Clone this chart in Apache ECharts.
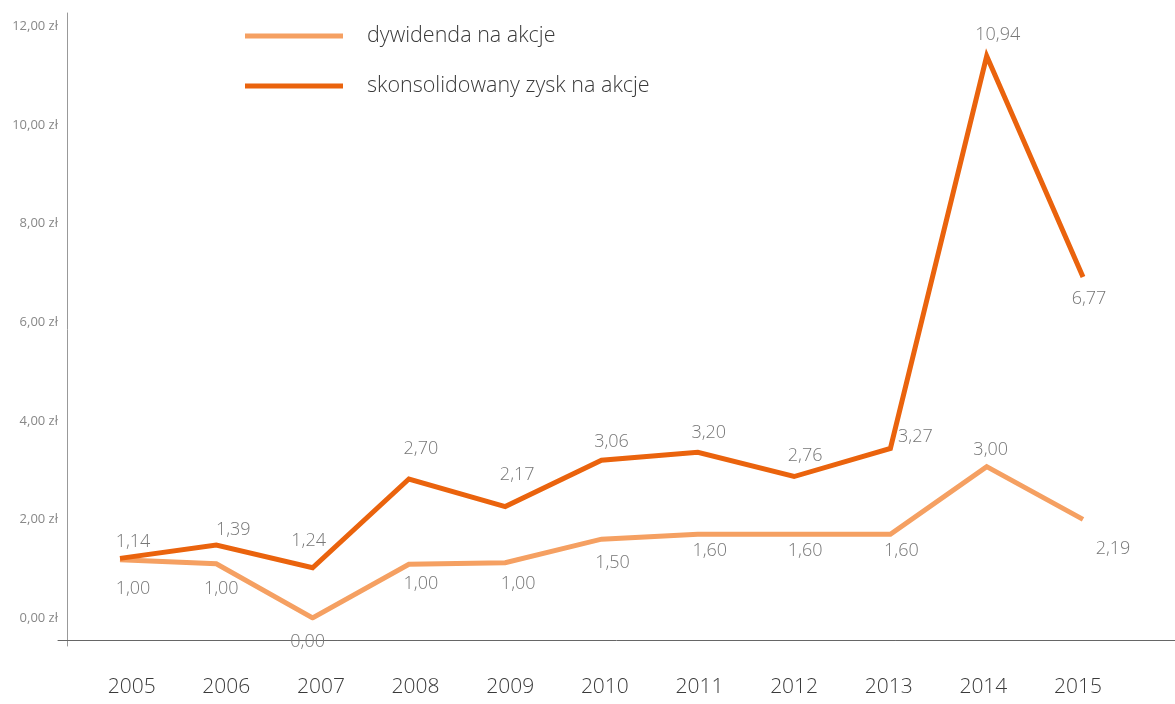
<!DOCTYPE html>
<html>
<head>
<meta charset="utf-8">
<script src="https://cdn.jsdelivr.net/npm/echarts@6/dist/echarts.min.js"></script>
<style>
html,body{margin:0;padding:0;background:#fff;}
#c{width:1175px;height:704px;}
</style>
</head>
<body>
<div id="c"></div>
<script>
// ---- data ----
var years = ['2005','2006','2007','2008','2009','2010','2011','2012','2013','2014','2015'];
var seriesNames = ['dywidenda na akcje', 'skonsolidowany zysk na akcje'];
var dividendValues = [1.18, 1.10, 0.00, 1.09, 1.12, 1.60, 1.70, 1.70, 1.70, 3.07, 2.00];
var epsValues      = [1.21, 1.48, 1.02, 2.82, 2.26, 3.20, 3.36, 2.87, 3.44, 11.40, 6.92];
// printed value labels
var dividendLabels = ['1,00','1,00','0,00','1,00','1,00','1,50','1,60','1,60','1,60','3,00','2,19'];
var epsLabels      = ['1,14','1,39','1,24','2,70','2,17','3,06','3,20','2,76','3,27','10,94','6,77'];
var yTicks = [0, 2, 4, 6, 8, 10, 12];

// label offsets (presentation)
var divOffsets = [[13,29],[5,25],[-5,24],[12,20],[13,21],[11,24],[12,17],[11,17],[11,17],[4,-17],[30,29]];
var epsOffsets = [[13,-16],[17,-15],[-4,-27],[12,-30],[12,-32],[10,-18],[11,-20],[11,-21],[25,-12],[11,-21],[6,22]];

var lightColor = '#F5A062';
var darkColor = '#EA630D';
var font = '"Open Sans", "Noto Sans", sans-serif';

function items(vals, offs) {
  return vals.map(function (v, i) {
    return { value: v, label: { offset: offs[i] } };
  });
}

var chart = echarts.init(document.getElementById('c'));
chart.setOption({
  animation: false,
  backgroundColor: '#fff',
  legend: {
    orient: 'vertical',
    left: 245,
    top: 23,
    padding: 0,
    itemWidth: 98,
    itemHeight: 5,
    itemGap: 24,
    icon: 'rect',
    data: seriesNames,
    textStyle: { fontFamily: font, fontSize: 21.5, fontWeight: 300, color: '#3a3a3a', lineHeight: 26, padding: [0, 0, 0, 19] }
  },
  grid: [
    { left: 58, right: 0, top: 13, bottom: 58 },
    { left: 120, right: 92, top: 26.5, bottom: 86 },
    { left: 131.7, right: 97, top: 26.5, bottom: 86 }
  ],
  xAxis: [
    { gridIndex: 0, type: 'value', min: 0, max: 1, offset: -6,
      axisLine: { show: true, onZero: false, lineStyle: { color: '#666', width: 1 } },
      axisTick: { show: false }, axisLabel: { show: false }, splitLine: { show: false } },
    { gridIndex: 1, type: 'category', data: years, boundaryGap: false, show: false },
    { gridIndex: 2, type: 'category', data: years, boundaryGap: false,
      axisLine: { show: false }, axisTick: { show: false }, splitLine: { show: false },
      axisLabel: { show: true, interval: 0, margin: 59, fontFamily: font, fontSize: 21, fontWeight: 300, color: '#3a3a3a' } }
  ],
  yAxis: [
    { gridIndex: 0, type: 'value', min: 0, max: 1, offset: -9,
      axisLine: { show: true, onZero: false, lineStyle: { color: '#999', width: 1 } },
      axisTick: { show: false }, axisLabel: { show: false }, splitLine: { show: false } },
    { gridIndex: 1, type: 'value', min: yTicks[0], max: yTicks[yTicks.length - 1], interval: 2,
      axisLine: { show: false }, axisTick: { show: false }, splitLine: { show: false },
      axisLabel: { margin: 62, fontFamily: font, fontSize: 13, color: '#888',
        formatter: function (v) { return v.toFixed(2).replace('.', ',') + ' zł'; } } },
    { gridIndex: 2, type: 'value', min: 0, max: 1, show: false }
  ],
  series: [
    {
      name: seriesNames[0], type: 'line', xAxisIndex: 1, yAxisIndex: 1,
      data: items(dividendValues, divOffsets),
      color: lightColor,
      lineStyle: { color: lightColor, width: 5, cap: 'butt', join: 'miter' },
      symbol: 'circle', symbolSize: 0.1, showSymbol: true,
      itemStyle: { color: lightColor },
      label: { show: true, position: 'inside', fontFamily: font, fontSize: 18, fontWeight: 300, color: '#777',
        formatter: function (p) { return dividendLabels[p.dataIndex]; } },
      z: 3
    },
    {
      name: seriesNames[1], type: 'line', xAxisIndex: 1, yAxisIndex: 1,
      data: items(epsValues, epsOffsets),
      color: darkColor,
      lineStyle: { color: darkColor, width: 5, cap: 'butt', join: 'miter' },
      symbol: 'circle', symbolSize: 0.1, showSymbol: true,
      itemStyle: { color: darkColor },
      label: { show: true, position: 'inside', fontFamily: font, fontSize: 18, fontWeight: 300, color: '#777',
        formatter: function (p) { return epsLabels[p.dataIndex]; } },
      z: 4
    }
  ]
});
</script>
</body>
</html>
